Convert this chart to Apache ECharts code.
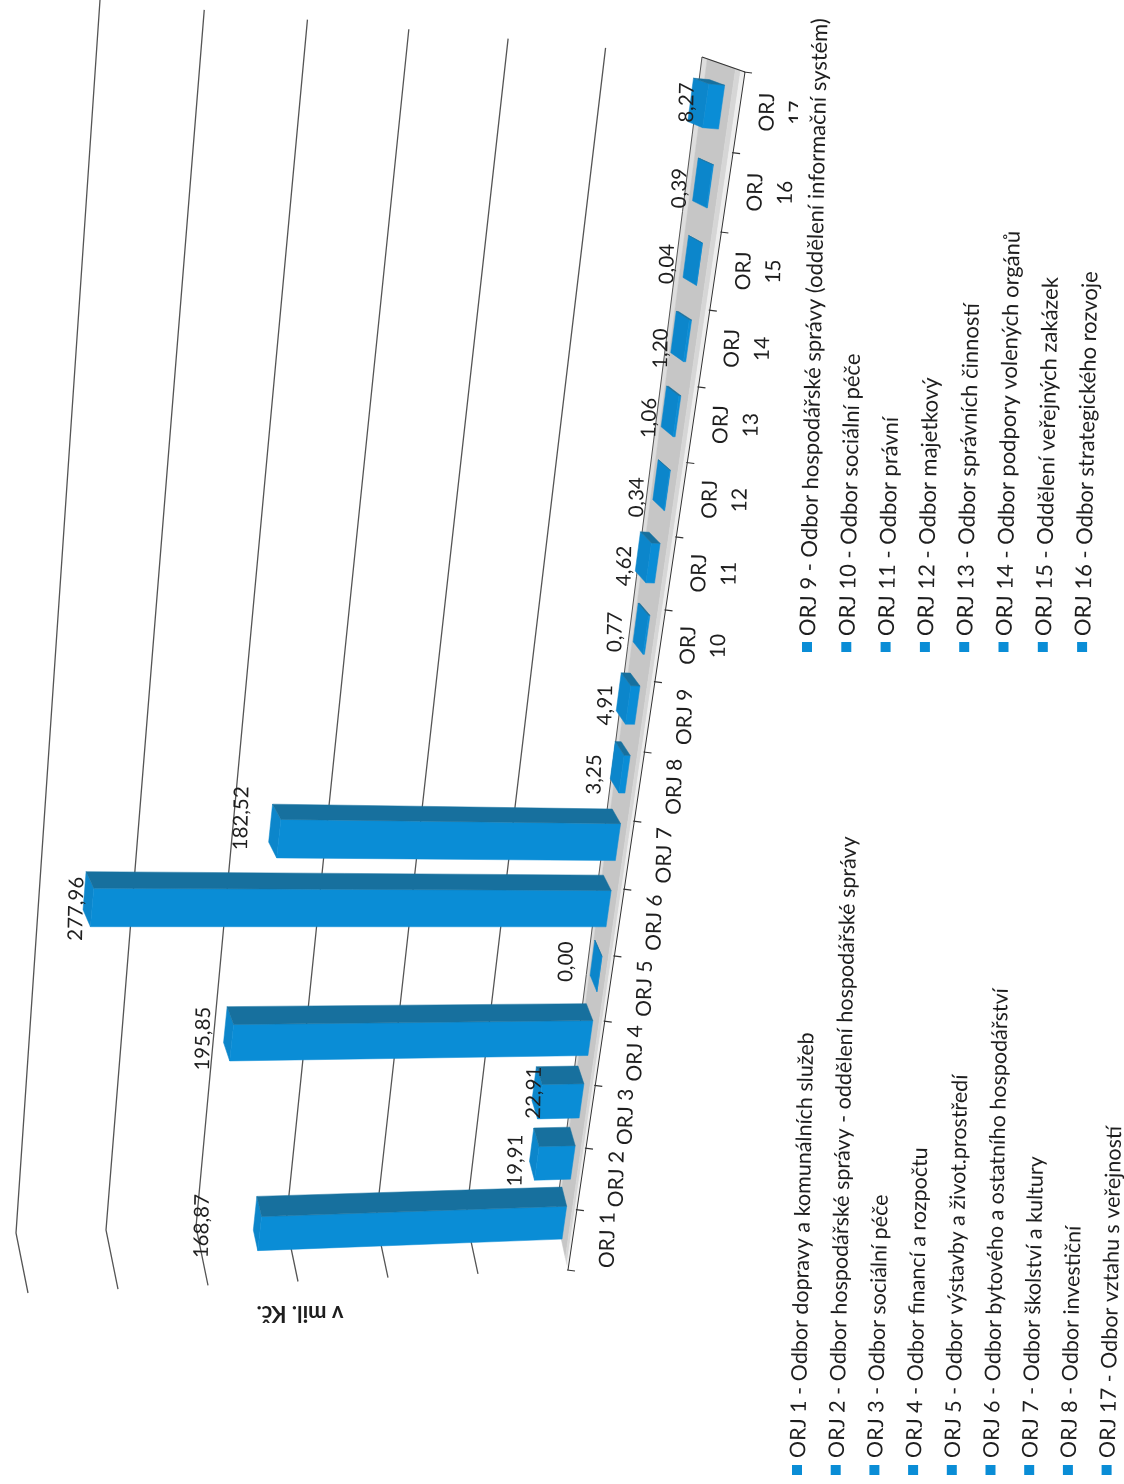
<!DOCTYPE html>
<html><head><meta charset="utf-8">
<style>html,body{margin:0;padding:0;background:#fff}#c{width:1124px;height:1484px}</style>
<script src="https://cdn.jsdelivr.net/npm/echarts@6/dist/echarts.min.js"></script>
</head><body><div id="c"></div>
<script>
const categories = ['ORJ 1','ORJ 2','ORJ 3','ORJ 4','ORJ 5','ORJ 6','ORJ 7','ORJ 8','ORJ 9','ORJ\n10','ORJ\n11','ORJ\n12','ORJ\n13','ORJ\n14','ORJ\n15','ORJ\n16','ORJ\n17'];
const values = [168.87,19.91,22.91,195.85,0.00,277.96,182.52,3.25,4.91,0.77,4.62,0.34,1.06,1.20,0.04,0.39,8.27];
const valueTicks = [0,50,100,150,200,250,300];
const legendLeft = ['ORJ 1 - Odbor dopravy a komunálních služeb','ORJ 2 - Odbor hospodářské správy - oddělení hospodářské správy','ORJ 3 - Odbor sociální péče','ORJ 4 - Odbor financí a rozpočtu','ORJ 5 - Odbor výstavby a život.prostředí','ORJ 6 - Odbor bytového a ostatního hospodářství','ORJ 7 - Odbor školství a kultury','ORJ 8 - Odbor investiční','ORJ 17 - Odbor vztahu s veřejností'];
const legendRight = ['ORJ 9 - Odbor hospodářské správy (oddělení informační systém)','ORJ 10 - Odbor sociální péče','ORJ 11 - Odbor právní','ORJ 12 - Odbor majetkový','ORJ 13 - Odbor správních činností','ORJ 14 - Odbor podpory volených orgánů','ORJ 15 - Oddělení veřejných zakázek','ORJ 16 - Odbor strategického rozvoje'];
const unitLabel = 'v mil. Kč.';

const W = 1124, H = 1484, N = categories.length, FONT = 'Lato', INK = '#1e1e1e';
const TILT = 0.02;
const lerp = (a,b,t)=>[a[0]+(b[0]-a[0])*t, a[1]+(b[1]-a[1])*t];
const warp = k => (59.66*k + 0.636*k*k)/1198;
// perspective of the scanned 3D plot
function project(k,w,d){
  const t = warp(k);
  const ww = w - 0.013*t*Math.sin(Math.PI*w);
  const base = lerp(lerp([556,1215],[702,57],t), lerp([16,1233],[100,0],t), ww);
  const dv = lerp([12,55+5*w],[43,15],t);
  return [base[0]+dv[0]*d, base[1]+dv[1]*d];
}
function pt(api,i,val,dk,d){
  const c = api.coord([i,val]);
  return project(c[0]/W*N+dk, 1-c[1]/H, d);
}
const poly = (points,fill)=>({type:'polygon',shape:{points},style:{fill,stroke:fill,lineWidth:0.5},silent:true});
const line = (points,stroke,lineWidth)=>({type:'polyline',shape:{points},style:{stroke,lineWidth,fill:null},silent:true});
const text = (x,y,str,size,extra)=>({type:'text',x,y,rotation:Math.PI/2-TILT,silent:true,
  style:Object.assign({text:str,fill:INK,font:size+'px '+FONT,textAlign:'center',verticalAlign:'middle',lineHeight:30},extra||{})});

function renderGrid(params,api){
  const v = api.value(0);
  const top = pt(api,16,v,0.5,0);
  const kink = pt(api,0,v,-0.5,0);
  const end = pt(api,0,v,-0.5,1);
  return line([top,kink,end],'#555',1.3);
}
function renderFloor(params,api){
  const s = (d0,d1,c)=>{
    const a=[],b=[];
    for(let q=0;q<=N;q++){a.push(project(q,0,d0));b.unshift(project(q,0,d1));}
    return poly(a.concat(b),c);
  };
  const frontEdge=[],backEdge=[];
  for(let q=0;q<=N;q++){frontEdge.push(project(q,0,1));backEdge.push(project(q,0,0));}
  return {type:'group',children:[
    s(0,0.12,'#dedede'),s(0.12,0.78,'#c6c6c6'),s(0.78,0.9,'#d6d6d6'),s(0.9,1,'#eeeeee'),
    line(backEdge,'#555',1),line(frontEdge,'#333',1),
    line([project(N,0,0),project(N,0,1)],'#333',1.2)
  ]};
}
function renderCat(params,api){
  const i = api.value(0), name = categories[i];
  const tick = pt(api,i,0,-0.5,1);
  const mid = pt(api,i,0,0,1);
  const children = [line([[tick[0]-1,tick[1]],[tick[0]+7,tick[1]+1]],'#333',1.2)];
  if(i===N-1){
    const e = pt(api,i,0,0.5,1);
    children.push(line([[e[0]-1,e[1]],[e[0]+7,e[1]+1]],'#333',1.2));
  }
  const multi = name.indexOf('\n')>=0;
  const lab = text(mid[0]+(multi?43:35),mid[1],name,21);
  if(i===N-1){
    children.push({type:'group',clipPath:{type:'rect',shape:{x:700,y:50,width:98,height:120}},children:[lab]});
  } else children.push(lab);
  return {type:'group',children};
}
function renderBar(params,api){
  const i = api.value(0), v = api.value(1), hw = 0.275, d0 = 0.32, d1 = 0.68, sx = -4;
  const P = (val,dk,d)=>{const p=pt(api,i,val,dk,d);return [p[0]+sx,p[1]];};
  return {type:'group',children:[
    poly([P(v,hw,d0),P(v,-hw,d0),P(v,-hw,d1),P(v,hw,d1)],'#0c86cb'),
    poly([P(0,hw,d1),P(v,hw,d1),P(v,-hw,d1),P(0,-hw,d1)],'#0a8dd6'),
    poly([P(0,hw,d0),P(v,hw,d0),P(v,hw,d1),P(0,hw,d1)],'#17709e')
  ]};
}
const labelNudge = [[-57,14],[-20,17],[-4,10],[-26,15],[-30,5],[-12,19],[-33,-4],[-22,15],[-17,14],[-24,10],[-17,15],[-22,18],[-18,12],[-16,17],[-22,8],[-19,9],[-7,3]];
function renderLabel(params,api){
  const i = api.value(0), v = api.value(1);
  const p = pt(api,i,v,0,0.3);
  return text(p[0]+labelNudge[i][0],p[1]+labelNudge[i][1],v.toFixed(2).replace('.',','),20.5);
}
const catData = values.map((v,i)=>[i,v]);
const legendEls = [];
function addLegend(list,x0,dx,ym,yt,size){
  list.forEach((s,i)=>{
    const x = x0+dx*i;
    legendEls.push({type:'rect',x:x-5,y:ym-5,shape:{width:10,height:10},style:{fill:'#0a8dd6'},silent:true});
    legendEls.push({type:'text',x:x+1,y:yt,rotation:Math.PI/2-TILT,silent:true,
      style:{text:s,fill:INK,font:size+'px '+FONT,textAlign:'left',verticalAlign:'middle'}});
  });
}
addLegend(legendLeft,797,38.7,1470,1458,21.5);
addLegend(legendRight,807,39.3,647,636,22);
legendEls.push({type:'text',x:300,y:1313,rotation:Math.PI,silent:true,
  style:{text:unitLabel,fill:INK,font:'bold 22px '+FONT,textAlign:'center',verticalAlign:'middle'}});

const chart = echarts.init(document.getElementById('c'));
chart.setOption({
  animation:false,backgroundColor:'#fff',
  grid:{left:0,right:0,top:0,bottom:0},
  xAxis:{type:'category',data:categories,show:false},
  yAxis:{type:'value',min:0,max:300,interval:50,show:false},
  graphic:legendEls,
  series:[
    {type:'custom',name:'grid',renderItem:renderGrid,data:valueTicks.slice(1).map(v=>[v]),encode:{y:0},clip:false,silent:true,z:1},
    {type:'custom',name:'floor',renderItem:renderFloor,data:[[0]],clip:false,silent:true,z:2},
    {type:'custom',name:'axis',renderItem:renderCat,data:catData,encode:{x:0,y:1},clip:false,silent:true,z:3},
    {type:'custom',name:'v mil. Kč.',renderItem:renderBar,data:catData,encode:{x:0,y:1},clip:false,z:4},
    {type:'custom',name:'labels',renderItem:renderLabel,data:catData,encode:{x:0,y:1},clip:false,silent:true,z:5}
  ]
});
</script></body></html>
